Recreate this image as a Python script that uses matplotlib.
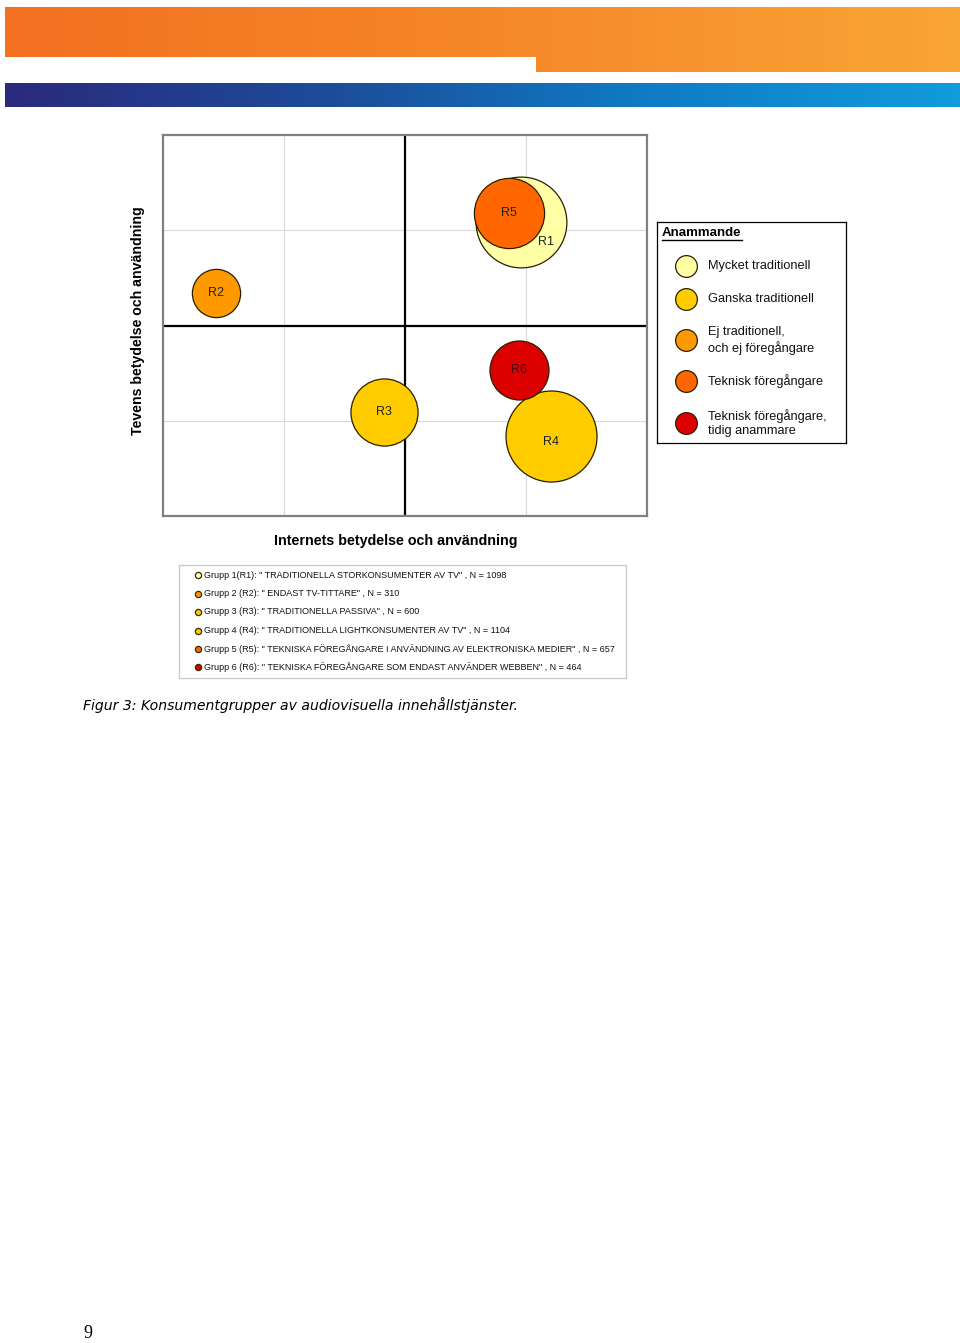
import matplotlib
matplotlib.use("Agg")
import matplotlib.pyplot as plt
import numpy as np
from matplotlib.colors import LinearSegmentedColormap

# ---------------- data ----------------
groups = ["R1", "R2", "R3", "R4", "R5", "R6"]
x_vals = [0.957, -1.555, -0.168, 1.211, 0.864, 0.943]
y_vals = [1.09, 0.346, -0.906, -1.162, 1.18, -0.467]
n_vals = [1098, 310, 600, 1104, 657, 464]
group_names = [
    "TRADITIONELLA STORKONSUMENTER AV TV",
    "ENDAST TV-TITTARE",
    "TRADITIONELLA PASSIVA",
    "TRADITIONELLA LIGHTKONSUMENTER AV TV",
    "TEKNISKA FÖREGÅNGARE I ANVÄNDNING AV ELEKTRONISKA MEDIER",
    "TEKNISKA FÖREGÅNGARE SOM ENDAST ANVÄNDER WEBBEN",
]
group_category = [0, 2, 1, 1, 3, 4]
categories = [
    "Mycket traditionell",
    "Ganska traditionell",
    "Ej traditionell,\noch ej föregångare",
    "Teknisk föregångare",
    "Teknisk föregångare,\ntidig anammare",
]
category_colors = ["#FFFFA6", "#FFCC00", "#FF9900", "#FF6600", "#DD0000"]
legend_title = "Anammande"
xlabel = "Internets betydelse och användning"
ylabel = "Tevens betydelse och användning"
caption = "Figur 3: Konsumentgrupper av audiovisuella innehållstjänster."
page_number = "9"

W, H = 960, 1343
fig = plt.figure(figsize=(W / 100, H / 100), dpi=100)
fig.patch.set_facecolor("white")


def fr(x0, y0, x1, y1):
    """pixel box (top-left origin) -> figure fraction rect"""
    return [x0 / W, 1 - y1 / H, (x1 - x0) / W, (y1 - y0) / H]


# ---------------- page layer (header bars, labels, caption) ----------------
hdr = fig.add_axes([0, 0, 1, 1], zorder=0)
hdr.set_xlim(0, W)
hdr.set_ylim(H, 0)
hdr.axis("off")
orange = LinearSegmentedColormap.from_list("o", ["#F37021", "#F68728", "#F9A535"])
blue = LinearSegmentedColormap.from_list("b", ["#2B2A7E", "#1D4B98", "#0F7BC4", "#119CDC"])
grad = np.linspace(0, 1, 512).reshape(1, -1)
hdr.imshow(grad[:, : int(512 * 536 / 955)], cmap=orange, vmin=0, vmax=1,
           extent=[5, 536, 57, 7], aspect="auto", interpolation="bilinear")
hdr.imshow(grad[:, int(512 * 531 / 955):], cmap=orange, vmin=0, vmax=1,
           extent=[536, 960, 72, 7], aspect="auto", interpolation="bilinear")
hdr.imshow(grad, cmap=blue, vmin=0, vmax=1,
           extent=[5, 960, 107, 83], aspect="auto", interpolation="bilinear")
hdr.text(83, 705, caption, fontsize=10.1, style="italic", family="DejaVu Sans",
         va="center", ha="left", color="black")
hdr.text(88, 1333, page_number, fontsize=13, family="Liberation Serif",
         va="center", ha="center", color="black")
hdr.text(396, 541, xlabel, fontsize=10.3, fontweight="bold", family="Liberation Sans",
         va="center", ha="center", color="black")
hdr.text(138, 321, ylabel, fontsize=10.2, fontweight="bold", family="Liberation Sans",
         va="center", ha="center", rotation=90, color="black")

# ---------------- bubble chart ----------------
ax = fig.add_axes(fr(162.5, 135, 646.9, 516), zorder=2)
ax.set_xlim(-2, 2)
ax.set_ylim(-2, 2)
ax.set_xticks([])
ax.set_yticks([])
for s in ax.spines.values():
    s.set_color("#808080")
    s.set_linewidth(1.6)
for g in (-1, 1):
    ax.axvline(g, color="#D9D9D9", lw=0.8, zorder=0)
    ax.axhline(g, color="#D9D9D9", lw=0.8, zorder=0)
ax.axvline(0, color="black", lw=1.6, zorder=1)
ax.axhline(0, color="black", lw=1.6, zorder=1)

scale = 3.89
for i, g in enumerate(groups):
    col = category_colors[group_category[i]]
    ax.scatter([x_vals[i]], [y_vals[i]], s=n_vals[i] * scale, c=col,
               edgecolors="#2B1E00", linewidths=0.9, zorder=3 + i)
    off = (0, 0)
    if g == "R1":
        off = (18.5, -14.5)
    elif g == "R4":
        off = (0, -4)
    tcol = "#4A0000" if g == "R6" else "#222222"
    ax.annotate(g, (x_vals[i], y_vals[i]), xytext=off, textcoords="offset points",
                ha="center", va="center", fontsize=9, family="Liberation Sans",
                color=tcol, zorder=20)

# ---------------- Anammande legend ----------------
lg = fig.add_axes(fr(657, 222, 846, 443), zorder=3)
lg.set_xlim(657, 846)
lg.set_ylim(443, 222)
lg.set_xticks([])
lg.set_yticks([])
for s in lg.spines.values():
    s.set_color("black")
    s.set_linewidth(0.9)
t_title = lg.text(662, 233, legend_title, fontsize=9.5, fontweight="bold",
                  family="Liberation Sans", va="center", ha="left")
leg_y = [266, 299, 340, 381, 423]
for i, cat in enumerate(categories):
    lg.scatter([686], [leg_y[i]], s=245, c=category_colors[i],
               edgecolors="#2B1E00", linewidths=0.9)
    lg.text(708, leg_y[i] + 0.5, cat, fontsize=9.2, family="Liberation Sans",
            va="center", ha="left", linespacing=1.22, color="#111111")
fig.canvas.draw()
bb = t_title.get_window_extent()
inv = lg.transData.inverted()
(ux0, uy0), (ux1, uy1) = inv.transform([(bb.x0, bb.y0), (bb.x1, bb.y0)])
lg.plot([ux0, ux1], [uy0 + 1.0, uy0 + 1.0], color="black", lw=1.0)

# ---------------- group legend ----------------
gl = fig.add_axes(fr(179, 565, 626, 678), zorder=3)
gl.set_xlim(179, 626)
gl.set_ylim(678, 565)
gl.set_xticks([])
gl.set_yticks([])
for s in gl.spines.values():
    s.set_color("#C8C8C8")
    s.set_linewidth(0.9)
gy = [575, 593.5, 612, 630.5, 649, 667]
for i, g in enumerate(groups):
    col = category_colors[group_category[i]]
    gl.scatter([198], [gy[i]], s=20, c=col, edgecolors="#3A2A00", linewidths=0.9)
    sep = "" if i == 0 else " "
    label = f'Grupp {i + 1}{sep}({g}): " {group_names[i]}" , N = {n_vals[i]}'
    gl.text(204, gy[i], label, fontsize=6.45,
            family=["Liberation Sans Narrow", "Liberation Sans"],
            va="center", ha="left", color="#111111")

fig.savefig("out.png", dpi=100, facecolor="white")
